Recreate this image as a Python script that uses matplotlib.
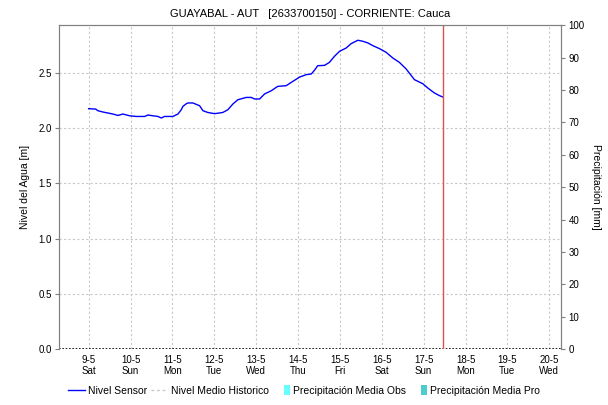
import matplotlib
matplotlib.use('Agg')
import matplotlib.pyplot as plt
from matplotlib.lines import Line2D
from matplotlib.patches import Patch, Rectangle
from matplotlib.legend_handler import HandlerPatch
import datetime as dt

plt.rcParams['font.family'] = ['Liberation Sans', 'DejaVu Sans']

inicio = dt.datetime(2020, 5, 9)

# horas desde 9-5 00:00 y nivel del sensor [m]
horas = [0, 4.0, 5.3, 8.2, 11.1, 13.9, 16.8, 19.6, 23.5, 27.3, 32.1, 34.0,
         36.8, 39.7, 41.6, 43.5, 48.3, 51.2, 53.1, 54.0, 56.0, 56.9, 59.7,
         63.6, 65.5, 68.3, 72.2, 76.9, 79.8, 82.7, 85.5, 90.3, 93.2, 95.1,
         98.0, 100.8, 104.7, 108.4, 113.2, 117.0, 120.9, 124.7, 127.6, 129.4,
         131.3, 135.2, 138.0, 140.9, 143.8, 147.6, 150.5, 154.3, 157.1, 160.0,
         162.8, 166.7, 170.5, 174.3, 178.1, 182.0, 186.7, 191.5, 194.4, 198.2,
         201.1, 203.0]
nivel = [2.174, 2.171, 2.156, 2.144, 2.135, 2.126, 2.113, 2.126, 2.110, 2.104,
         2.104, 2.117, 2.110, 2.104, 2.090, 2.104, 2.104, 2.126, 2.165, 2.195,
         2.219, 2.226, 2.226, 2.201, 2.156, 2.140, 2.129, 2.140, 2.165, 2.217,
         2.255, 2.276, 2.276, 2.262, 2.262, 2.307, 2.337, 2.376, 2.382, 2.421,
         2.460, 2.482, 2.488, 2.521, 2.563, 2.566, 2.593, 2.648, 2.693, 2.723,
         2.763, 2.793, 2.784, 2.769, 2.745, 2.717, 2.684, 2.633, 2.593, 2.533,
         2.437, 2.400, 2.361, 2.316, 2.292, 2.280]

hora_actual = 203.0

dias = ['9-5', '10-5', '11-5', '12-5', '13-5', '14-5', '15-5', '16-5',
        '17-5', '18-5', '19-5', '20-5']
semana = ['Sat', 'Sun', 'Mon', 'Tue', 'Wed', 'Thu', 'Fri', 'Sat',
          'Sun', 'Mon', 'Tue', 'Wed']

fechas = [inicio + dt.timedelta(hours=h) for h in horas]
ticks = [inicio + dt.timedelta(days=i) for i in range(len(dias))]

fig = plt.figure(figsize=(6.08, 4.05), dpi=100)
ax = fig.add_axes([0.097, 0.138, 0.8265, 0.8])
ax2 = ax.twinx()

gris = '#c8c8c8'
ax.set_xlim(inicio - dt.timedelta(hours=17), inicio + dt.timedelta(days=11, hours=7))
ax.set_ylim(0, 2.93)
ax2.set_ylim(0, 100)

ax.set_xticks(ticks)
ax.set_xticklabels([d + '\n' + s for d, s in zip(dias, semana)], fontsize=7)
ax.set_yticks([0, 0.5, 1.0, 1.5, 2.0, 2.5])
ax.set_yticklabels(['0.0', '0.5', '1.0', '1.5', '2.0', '2.5'], fontsize=7)
ax2.set_yticks(range(0, 101, 10))
ax2.tick_params(axis='y', labelsize=7, length=3, color='#808080', pad=2)
ax.tick_params(axis='y', length=3, color='#808080', pad=2)
ax.tick_params(axis='x', length=0, pad=4)

ax.grid(True, linestyle=(0, (2, 2)), linewidth=0.8, color=gris)
ax.set_axisbelow(True)

for a in (ax, ax2):
    for lado in ('left', 'right', 'top'):
        a.spines[lado].set_color('#808080')
    a.spines['bottom'].set_visible(False)
ax.axhline(0, color='black', linestyle=(0, (1, 1)), linewidth=1.2, zorder=5)

ax.plot(fechas, nivel, color='blue', lw=1, zorder=4)
ax.axvline(inicio + dt.timedelta(hours=hora_actual), color='#e05050', lw=1, zorder=6)

ax.set_ylabel('Nivel del Agua [m]', fontsize=7.5, labelpad=6)
ax2.set_ylabel('Precipitación [mm]', fontsize=7.5, rotation=270, labelpad=12)
ax.set_title('GUAYABAL - AUT   [2633700150] - CORRIENTE: Cauca', fontsize=8, pad=6)


# barra angosta para las entradas de precipitación
def barra(legend, orig_handle, xdescent, ydescent, width, height, fontsize):
    w = width * 0.35
    return Rectangle((width - w - xdescent, -ydescent - 0.15 * height), w, height * 1.3)


handles = [Line2D([0], [0], color='blue', lw=1),
           Line2D([0], [0], color=gris, lw=1, linestyle=(0, (2, 2))),
           Patch(facecolor='#66ffff', edgecolor='none'),
           Patch(facecolor='#4ccccc', edgecolor='none')]
labels = ['Nivel Sensor', 'Nivel Medio Historico', 'Precipitación Media Obs',
          'Precipitación Media Pro']
fig.legend(handles, labels, loc='lower center', bbox_to_anchor=(0.5, 0.0),
           ncol=4, frameon=False, fontsize=7.5, handlelength=1.6,
           handletextpad=0.3, columnspacing=0.4,
           handler_map={Patch: HandlerPatch(patch_func=barra)})

fig.savefig('out.png', dpi=100)
